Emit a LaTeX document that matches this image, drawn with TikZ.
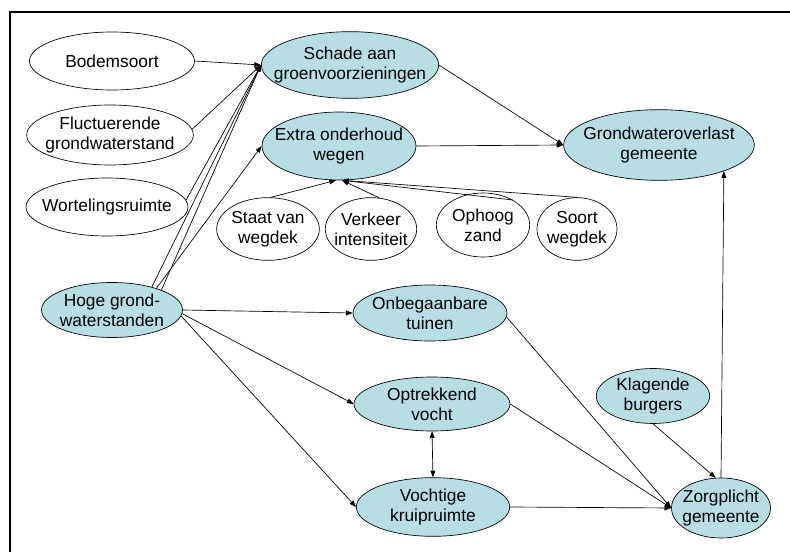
\documentclass[tikz,border=0pt]{standalone}
\usepackage{fontspec}
\setmainfont{Liberation Sans}
\usetikzlibrary{shapes.geometric,arrows.meta}
\definecolor{bubfill}{RGB}{183,222,227}
\tikzset{
  shell/.style={ellipse, draw=black, line width=0.5pt, inner sep=0pt},
  plain/.style={shell, fill=white},
  cause/.style={shell, fill=bubfill},
  lbl/.style={align=center, inner sep=0pt, font=\fontsize{13}{15}\selectfont},
  arr/.style={-{Triangle[length=5pt,width=3.6pt]}, line width=0.5pt},
  biarr/.style={{Triangle[length=5pt,width=3.6pt]}-{Triangle[length=5pt,width=3.6pt]}, line width=0.5pt},
  frame/.style={line width=1.5pt}
}
% \bubble{style}{name}{x,y}{width}{height}{text}
\newcommand\bubble[6]{%
  \node[#1, minimum width=#4, minimum height=#5] (#2) at (#3) {};
  \node[lbl] (#2-t) at (#2) {#6};}
\begin{document}
\begin{tikzpicture}[x=0.75pt, y=-0.75pt]
\useasboundingbox (0,0) rectangle (790,552);
\draw[frame] (10,552) -- (10,12) -- (790,12);

% left column of factors
\bubble{plain}{bodem}{112,61}{123.75pt}{43.5pt}{Bodemsoort}
\bubble{plain}{fluct}{110,135}{125pt}{45pt}{Fluctuerende\\grondwaterstand}
\bubble{plain}{wort}{107,207}{121.5pt}{43.5pt}{Wortelingsruimte}
\bubble{cause}{hoge}{112,310}{105.75pt}{41.25pt}{Hoge grond-\\waterstanden}

% upper effects
\bubble{cause}{schade}{350,65}{133pt}{50pt}{Schade aan\\groenvoorzieningen}
\bubble{cause}{extra}{339,146}{115.5pt}{51pt}{Extra onderhoud\\wegen}
\bubble{cause}{grond}{659,145}{143pt}{53pt}{Grondwateroverlast\\gemeente}

% road factors
\bubble{plain}{staat}{268,229}{77pt}{47pt}{Staat van\\wegdek}
\bubble{plain}{verkeer}{371,229}{68.5pt}{47pt}{Verkeer\\intensiteit}
\bubble{plain}{ophoog}{483,225}{70pt}{48pt}{Ophoog\\zand}
\bubble{plain}{soort}{577,229}{60pt}{47pt}{Soort\\wegdek}

% lower effects
\bubble{cause}{onbeg}{430,313}{115.5pt}{42pt}{Onbegaanbare\\tuinen}
\bubble{cause}{optrek}{432,404}{117pt}{40.5pt}{Optrekkend\\vocht}
\bubble{cause}{vocht}{433,507}{115pt}{44pt}{Vochtige\\kruipruimte}
\bubble{cause}{klag}{653,396}{85pt}{41.25pt}{Klagende\\burgers}
\bubble{cause}{zorg}{721,508}{74.25pt}{45pt}{Zorgplicht\\gemeente}

% connectors
\draw[arr] (bodem.east) -- (schade.west);
\draw[arr] (fluct.4) -- (schade.west);
\draw[arr] (wort.5) -- (schade.west);
\draw[arr] (hoge.22) -- (schade.west);
\draw[arr] (hoge.30) -- (schade.west);
\draw[arr] (hoge.26) -- (extra.west);

\draw[arr] (schade.east) -- (grond.west);
\draw[arr] (extra.east) -- (grond.west);

\draw[arr] (staat.85) -- (extra.265);
\draw[arr] (verkeer.75) -- (extra.275);
\draw[arr] (ophoog.40) -- (extra.275);
\draw[arr] (soort.north) -- (extra.275);

\draw[arr] (hoge.east) -- (onbeg.west);
\draw[arr] (hoge.-3) -- (optrek.west);
\draw[arr] (hoge.-5) -- (vocht.west);

\draw[biarr] (optrek.south) -- (vocht.north);

\draw[arr] (onbeg.-3) -- (zorg.west);
\draw[arr] (optrek.east) -- (zorg.west);
\draw[arr] (vocht.east) -- (zorg.west);
\draw[arr] (klag.south) -- (zorg.100);
\draw[arr] (zorg.north) -- (grond.-22);
\end{tikzpicture}
\end{document}
